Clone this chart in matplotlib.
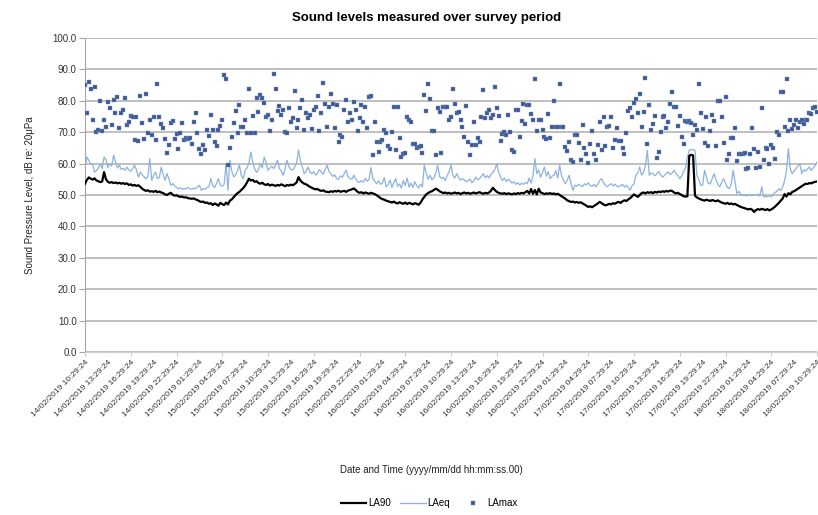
import matplotlib
matplotlib.use("Agg")
import matplotlib.pyplot as plt
import pandas as pd

plt.rcParams['font.family'] = ['Liberation Sans', 'DejaVu Sans']

# 15-minute logging interval, 14/02/2019 10:29:24 -> 18/02/2019 10:29:24
start = "2019-02-14 10:29:24"

# LA90, dB (one row per hour, four readings each)
la90 = [
    53.6, 54.8, 55.6, 55.2,
    54.9, 55.3, 54.6, 54.4,
    54.1, 54.3, 57.3, 55.0,
    54.2, 53.9, 54.1, 53.8,
    54.0, 53.7, 53.9, 53.6,
    53.8, 53.5, 53.7, 53.2,
    53.4, 53.0, 53.2, 52.9,
    53.1, 52.6, 52.0, 51.6,
    51.3, 51.5, 51.1, 51.2,
    51.0, 51.3, 50.9, 51.1,
    50.8, 50.6, 50.2, 50.0,
    50.4, 50.7, 50.1, 49.8,
    49.9, 49.6, 49.4, 49.5,
    49.2, 49.3, 49.0, 48.9,
    48.8, 48.9, 48.6, 48.4,
    48.0, 47.8, 47.9, 47.5,
    47.6, 47.2, 47.4, 46.8,
    47.3, 47.0, 46.6, 47.5,
    47.1, 46.8, 47.6, 47.0,
    48.2, 48.6, 49.3, 50.0,
    50.6, 51.0, 51.6, 52.2,
    53.0, 54.0, 55.2, 54.6,
    54.8, 54.2, 54.4, 53.8,
    53.6, 53.9, 53.4, 53.2,
    53.5, 53.0, 53.3, 53.1,
    52.9, 53.2, 53.0, 53.4,
    53.1, 52.8, 53.2, 53.0,
    53.3, 53.1, 53.5, 54.0,
    55.7, 54.6, 54.0, 53.6,
    53.4, 53.0, 52.6, 52.3,
    52.0, 51.8, 51.9, 51.5,
    51.3, 51.5, 51.1, 51.0,
    50.9, 51.2, 51.0, 51.3,
    51.1, 51.4, 51.0, 51.2,
    51.3, 51.0, 51.4, 51.6,
    51.8, 52.1, 51.6, 51.0,
    50.7, 50.9, 50.5, 50.8,
    50.6, 50.4, 50.7, 50.5,
    50.3, 49.9, 49.5, 49.0,
    48.7, 48.5, 48.2, 48.0,
    47.8, 47.6, 47.9, 47.5,
    47.3, 47.7, 47.4, 47.2,
    47.6, 47.1, 47.5, 47.3,
    47.0, 47.4, 47.2, 46.9,
    47.5, 48.6, 49.4, 50.2,
    50.6, 51.0, 51.2, 51.6,
    52.0, 51.7, 51.2, 50.9,
    50.6, 50.8, 50.5, 50.7,
    50.4, 50.6, 50.8, 50.5,
    50.7, 50.3, 50.6, 50.8,
    50.5, 50.7, 50.4, 50.6,
    50.8, 50.5, 50.7, 50.9,
    50.6, 50.4, 50.7, 50.5,
    50.8, 51.4, 52.3, 51.6,
    51.0, 50.7, 50.5, 50.4,
    50.6, 50.3, 50.5, 50.4,
    50.2, 50.5, 50.3, 50.6,
    50.4, 50.7, 50.5, 50.9,
    51.3, 50.5, 51.9, 50.4,
    51.6, 50.2, 52.0, 50.8,
    50.6, 50.3, 50.5, 50.4,
    50.6, 50.3, 50.5, 50.2,
    50.4, 50.0, 49.6, 49.2,
    48.8, 48.3, 48.0, 47.8,
    47.9, 47.6, 47.8, 47.5,
    47.7, 47.3, 47.0, 46.6,
    46.2, 46.4, 46.1, 46.5,
    46.9, 47.3, 47.8, 47.4,
    47.0, 46.7, 46.9, 47.2,
    47.0, 47.4, 47.2, 47.6,
    47.8, 47.5, 48.0, 48.3,
    48.1, 48.6, 49.0, 49.6,
    50.2, 49.8, 49.4, 50.0,
    50.6, 50.8, 50.5, 50.9,
    50.7, 50.9, 50.6, 51.0,
    50.8, 51.1, 50.9, 51.2,
    51.0, 51.3, 51.1, 51.4,
    51.3, 50.8, 50.5, 50.7,
    50.3, 50.0, 49.6, 49.5,
    49.6, 62.5, 62.8, 62.6,
    49.8, 49.2, 48.9, 48.6,
    48.4, 48.2, 48.5, 48.3,
    48.1, 48.4, 48.2, 48.0,
    48.3, 47.9, 47.6, 47.4,
    47.2, 47.5, 47.1, 47.3,
    47.0, 47.2, 46.8, 46.5,
    46.2, 46.0, 45.8, 45.6,
    45.4, 45.6, 45.3, 44.6,
    45.2, 45.5, 45.3, 45.6,
    45.4, 45.2, 45.5, 45.1,
    45.4, 45.8, 46.3, 46.9,
    47.5, 48.2, 48.9, 50.3,
    49.5, 50.6, 50.2, 51.0,
    51.2, 51.6, 52.0, 52.4,
    52.8, 53.2, 53.6, 53.5,
    53.8, 53.7, 54.0, 54.2,
    54.3,
]

# LAeq, dB
laeq = [
    58.9, 62.1, 61.0, 59.8,
    60.0, 57.3, 57.8, 58.6,
    60.0, 58.4, 62.1, 61.2,
    58.8, 60.0, 59.2, 62.7,
    60.5, 58.6, 59.5, 58.2,
    58.5, 57.9, 58.9, 57.9,
    57.6, 58.4, 59.5, 58.0,
    55.7, 57.3, 56.4, 55.8,
    55.2, 56.0, 61.6, 54.7,
    56.2, 57.3, 55.2, 55.6,
    58.9, 56.5, 54.7, 56.8,
    55.2, 53.1, 53.6, 53.0,
    52.4, 52.0, 52.3, 51.8,
    52.1, 51.9, 52.4, 52.0,
    51.8, 52.2, 52.0, 52.6,
    53.1, 51.5, 52.0, 51.8,
    52.4, 52.6, 55.2, 53.0,
    52.4, 53.6, 55.2, 53.1,
    52.8, 53.4, 60.0, 51.5,
    61.1, 57.6, 55.7, 56.4,
    57.8, 59.5, 56.2, 55.2,
    57.9, 58.6, 60.2, 63.7,
    60.4, 58.4, 57.2, 58.1,
    60.0, 58.6, 62.1, 60.3,
    57.9, 58.6, 59.2, 58.4,
    59.6, 61.1, 58.4, 57.6,
    56.3, 58.5, 61.1, 59.0,
    58.2, 57.9, 58.9, 60.2,
    64.3, 61.1, 59.0, 56.8,
    57.6, 58.9, 57.3, 56.8,
    57.4, 56.3, 57.0, 58.1,
    57.3, 56.6, 58.2, 59.5,
    57.4, 56.8, 55.9, 56.4,
    55.2, 55.0, 56.1, 55.6,
    56.8, 57.9, 55.8, 55.2,
    55.0, 56.3, 55.1, 54.2,
    54.0, 54.6, 54.1, 55.3,
    54.4, 55.0, 58.7, 55.2,
    54.3, 53.6, 54.5, 53.4,
    53.8, 55.5, 52.6, 53.2,
    54.8, 52.4, 53.9, 55.2,
    52.8, 53.5, 52.2, 54.6,
    53.0, 55.4, 52.5, 53.8,
    52.4, 54.2, 53.0, 52.2,
    53.5, 52.6, 59.5, 57.0,
    55.0, 56.3, 54.8, 55.4,
    57.0, 59.5, 56.0, 55.2,
    55.7, 54.6, 56.2, 57.4,
    59.5, 56.2, 55.4, 56.8,
    55.6, 54.7, 55.2, 54.8,
    54.2, 54.6, 55.1, 53.9,
    54.5, 55.7, 54.8, 55.3,
    56.0, 56.8, 55.5, 56.2,
    55.4, 56.6, 57.2, 58.1,
    60.0, 57.2, 55.7, 54.6,
    55.4, 54.3, 55.0, 54.5,
    53.8, 54.2, 53.4, 53.9,
    53.2, 53.7, 53.4, 54.0,
    53.6, 55.4, 53.8, 56.0,
    61.6, 56.8, 58.0, 55.6,
    57.1, 58.9, 56.0, 57.4,
    55.2, 56.0, 56.3, 57.8,
    55.4, 59.5, 56.1, 54.8,
    53.6, 54.8, 56.3, 53.4,
    51.5, 53.1, 52.8, 53.4,
    53.0, 52.6, 53.6, 53.2,
    53.9, 53.0, 52.8, 53.4,
    52.6, 53.5, 54.6, 55.2,
    54.0, 53.1, 52.6, 53.2,
    53.6, 52.9, 53.4, 52.8,
    52.6, 53.0, 53.4, 52.5,
    53.1, 52.4, 51.5, 53.0,
    53.5, 56.3, 57.0, 58.9,
    56.3, 57.2, 59.5, 64.3,
    56.3, 57.0, 56.8, 56.1,
    56.8, 57.5, 56.4, 55.7,
    56.2, 56.9, 57.3, 56.5,
    57.0, 57.9, 56.8, 56.2,
    55.2, 56.0, 57.4, 58.6,
    62.0, 64.3, 64.5, 64.4,
    64.2, 56.3, 55.0, 53.1,
    53.1, 57.9, 55.6, 53.6,
    53.6, 55.2, 56.8, 54.8,
    53.4, 52.6, 54.0, 55.2,
    53.8, 52.4, 52.0, 53.5,
    57.9, 54.2, 50.4, 51.2,
    50.2, 49.9, 50.1, 49.7,
    49.9, 50.2, 49.8, 50.0,
    49.9, 50.3, 49.6, 52.6,
    49.4, 49.6, 49.4, 49.8,
    49.4, 50.2, 50.8, 51.2,
    52.0, 51.4, 52.6, 54.5,
    57.9, 64.8, 58.2, 56.8,
    57.6, 58.4, 59.2, 60.0,
    56.8, 58.0, 57.6, 58.3,
    58.9, 57.8, 58.6, 59.4,
    60.5,
]

# LAmax, dB
lamax = [
    85.0, 76.0, 86.1, 83.9, 73.8, 84.3, 70.1, 70.6, 80.0, 70.4,
    74.0, 71.7, 79.7, 77.8, 72.2, 80.2, 76.2, 81.3, 71.4, 76.2,
    77.0, 81.0, 72.2, 73.3, 75.1, 74.9, 67.4, 74.9, 67.1, 81.5,
    72.8, 67.7, 82.1, 69.6, 73.8, 69.0, 74.7, 67.4, 85.5, 74.7,
    72.6, 71.4, 67.8, 63.4, 65.9, 72.8, 73.6, 67.8, 69.4, 64.5,
    69.8, 72.8, 67.4, 68.3, 67.9, 68.0, 66.2, 73.3, 76.0, 69.6,
    64.8, 62.9, 65.9, 64.3, 70.6, 68.7, 75.6, 70.6, 66.9, 65.5,
    70.6, 72.0, 73.8, 88.2, 87.1, 59.5, 65.0, 68.5, 72.8, 76.7,
    69.8, 78.6, 71.7, 71.7, 73.8, 69.8, 83.8, 69.8, 75.1, 69.8,
    81.0, 76.5, 81.8, 81.0, 79.4, 74.9, 75.4, 70.3, 74.0, 88.4,
    83.8, 76.8, 78.5, 75.6, 77.0, 70.0, 69.8, 77.8, 73.3, 74.4,
    83.2, 71.2, 73.8, 77.8, 80.4, 70.6, 76.0, 74.4, 75.6, 70.9,
    77.2, 78.1, 81.6, 70.3, 76.0, 85.7, 79.1, 71.7, 78.1,
    82.3, 79.1, 71.2, 78.6, 66.9, 69.0, 68.5, 77.0, 80.2, 73.3,
    76.0, 73.8, 79.7, 77.0, 70.3, 74.4, 78.8, 73.3, 78.1, 71.4,
    81.1, 81.5, 62.7, 73.3, 66.9, 63.7, 66.9, 67.4, 70.6, 69.6,
    65.6, 64.8, 70.1, 78.1, 64.3, 77.9, 68.0, 62.1, 63.2, 63.4,
    74.9, 73.8, 73.3, 66.4, 66.4, 65.0, 65.3, 65.5, 63.5, 81.8,
    76.7, 85.3, 80.7, 70.3, 70.3, 62.7, 77.6, 76.5, 63.4, 78.1,
    78.1, 78.1, 73.8, 74.9, 83.6, 79.1, 76.0, 76.5, 73.8, 71.7,
    68.5, 78.3, 66.9, 62.7, 65.9, 73.3, 65.9, 68.3, 66.9, 74.9,
    83.4, 74.4, 76.0, 77.0, 74.4, 75.4, 84.3, 77.8, 75.1, 67.1,
    69.4, 70.1, 69.0, 75.4, 70.1, 64.3, 63.7, 77.0, 77.0, 68.5,
    73.6, 79.1, 72.6, 78.6, 78.6, 75.7, 73.8, 86.8, 70.4, 73.8,
    73.8, 70.6, 68.5, 67.8, 75.7, 68.0, 71.7, 80.0, 71.5, 71.7,
    85.2, 71.5, 71.7, 65.3, 64.0, 66.9, 61.3,
    60.5, 69.0, 69.0, 66.6, 61.3, 72.2, 65.1, 63.2, 60.2, 66.4,
    70.3, 63.2, 61.1, 65.9, 73.3, 64.3, 74.7, 65.5, 71.7, 71.9,
    74.7, 65.1, 67.4, 71.2, 67.1, 67.1, 65.1, 63.2, 69.6, 76.8,
    77.6, 74.9, 79.4, 80.7, 76.2, 82.3, 71.5, 76.5, 87.4, 66.4,
    78.6, 70.6, 72.6, 75.1, 61.9, 63.7, 70.1, 74.9, 75.2, 71.2,
    73.3, 79.1, 82.9, 78.1, 77.9, 72.1, 75.1, 68.5, 66.4, 73.5,
    73.3, 73.6, 72.8, 69.0, 72.4, 70.6, 85.5, 76.0, 70.9, 66.6,
    74.9, 65.5, 70.4, 75.4, 73.5, 65.5, 80.0, 80.0, 74.9, 66.6,
    81.3, 61.3, 63.2, 68.3, 68.3, 71.2, 60.9, 63.2, 63.2, 63.2,
    63.4, 58.4, 58.7, 63.0, 71.2, 64.5, 58.7, 63.7, 58.9, 77.6,
    61.1, 65.1, 64.5, 59.8, 65.9, 65.1, 61.6, 70.1, 69.0, 82.9,
    82.9, 71.7, 86.8, 70.4, 73.8, 70.9, 72.2, 74.0, 71.2, 73.3,
    73.8, 72.6, 73.8, 74.0, 76.2, 75.7, 77.6, 78.1, 76.5,
]

times = pd.date_range(start, periods=len(la90), freq="15min")

fig = plt.figure(figsize=(8.18, 5.15), dpi=100)
ax = fig.add_axes([85 / 818, 1 - 352 / 515, 732 / 818, 314 / 515])

ax.plot(times, laeq, color='#8bb2e0', lw=0.9, label='LAeq', zorder=2)
ax.plot(times, la90, color='black', lw=1.6, label='LA90', zorder=3)
ax.plot(times, lamax, ls='none', marker='s', ms=2.3, mew=0.3,
        color='#3b5894', mec='#7f95c0', label='LAmax', zorder=4)

# y axis
ax.set_ylim(0, 100)
ax.set_yticks(range(0, 101, 10))
ax.set_yticklabels([f"{v:.1f}" for v in range(0, 101, 10)])
ax.grid(axis='y', color='#b4b4b4', lw=1.2)
ax.set_axisbelow(True)
ax.tick_params(axis='y', length=4, color='#a6a6a6', labelsize=7,
               labelcolor='#333333', pad=2)

# x axis: labels every 3 hours, tick marks every 6 hours
ax.set_xlim(times[0], times[-1])
label_times = times[::12]
ax.set_xticks(label_times)
ax.set_xticklabels([t.strftime("%d/%m/%Y %H:%M:%S") for t in label_times],
                   rotation=45, ha='right', rotation_mode='anchor',
                   fontsize=6, color='#333333')
ax.tick_params(axis='x', length=0, pad=5)
ax.set_xticks(times[::24], minor=True)
ax.xaxis.remove_overlapping_locs = False
ax.tick_params(axis='x', which='minor', length=3, color='#bfbfbf')

for side in ('top', 'right'):
    ax.spines[side].set_visible(False)
ax.spines['left'].set_color('#a6a6a6')
ax.spines['bottom'].set_color('#d0d0d0')

fig.text(427 / 818, 1 - 18 / 515, "Sound levels measured over survey period",
         ha='center', va='center', fontsize=9.5, weight='bold')
fig.text(30 / 818, 1 - 195 / 515, "Sound Pressure Level, dB re: 20μPa",
         ha='center', va='center', rotation=90, fontsize=7, color='#222222')
fig.text(431 / 818, 1 - 470 / 515, "Date and Time (yyyy/mm/dd hh:mm:ss.00)",
         ha='center', va='center', fontsize=7, color='#222222')

handles, labels = ax.get_legend_handles_labels()
order = [1, 0, 2]
fig.legend([handles[i] for i in order], [labels[i] for i in order],
           loc='center', bbox_to_anchor=(429 / 818, 1 - 503 / 515), ncol=3,
           frameon=False, fontsize=7, handlelength=2.6, columnspacing=1.0,
           handletextpad=0.2, markerscale=1.3)

fig.savefig("out.png", dpi=100)
